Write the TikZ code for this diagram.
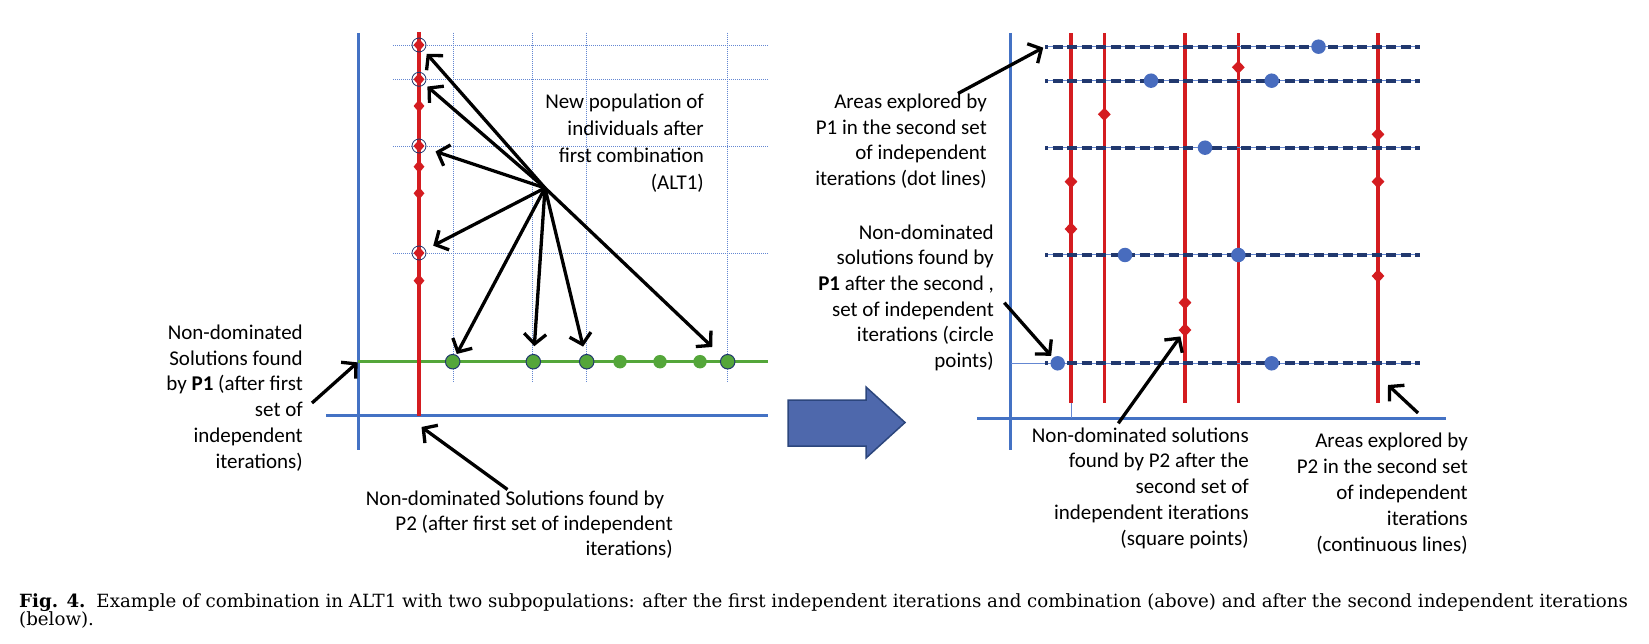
\documentclass[tikz,border=0pt]{standalone}
\usepackage{fontspec}
\setmainfont{DejaVu Serif}
\newfontfamily\calfont{Carlito}
\newfontfamily\capfont{DejaVu Serif}
\usetikzlibrary{arrows.meta,calc,shapes.geometric}

\definecolor{axisblue}{RGB}{68,114,196}
\definecolor{pred}{RGB}{212,28,32}
\definecolor{pgreen}{RGB}{84,166,58}
\definecolor{navy}{RGB}{33,56,110}
\definecolor{dotblue}{RGB}{72,108,190}
\definecolor{gridblue}{RGB}{100,135,210}
\definecolor{bigfill}{RGB}{78,104,172}
\definecolor{bigline}{RGB}{44,70,125}

\begin{document}
\begin{tikzpicture}[x=1pt,y=-1pt,
  axisl/.style={draw=axisblue, line width=3pt},
  gridl/.style={draw=gridblue, line width=0.9pt, dash pattern=on 1pt off 1pt},
  redl/.style={draw=pred, line width=4pt},
  redr/.style={draw=pred, line width=3.3pt},
  greenl/.style={draw=pgreen, line width=3.5pt},
  thinl/.style={draw=gridblue, line width=1pt},
  dashnavy/.style={draw=navy, line width=4pt, dash pattern=on 10pt off 4.5pt, dash phase=7pt},
  ptr/.style={draw=black, line width=3.3pt, -{Straight Barb[length=10pt,width=22pt]}},
  lbl/.style={font=\calfont\fontsize{21}{#1}\selectfont, align=right, anchor=base east, inner sep=0pt},
  rdia/.style={diamond, fill=pred, inner sep=0pt, minimum width=11pt, minimum height=13pt},
  rdiaR/.style={diamond, fill=pred, inner sep=0pt, minimum width=13pt, minimum height=13.5pt},
  ringd/.style={circle, draw=navy, line width=0.8pt, inner sep=0pt, minimum size=14pt},
  gdot/.style={circle, fill=pgreen, draw=navy, line width=1pt, inner sep=0pt, minimum size=14.5pt},
  gdotn/.style={circle, fill=pgreen, inner sep=0pt, minimum size=13.5pt},
  bdot/.style={circle, fill=dotblue, inner sep=0pt, minimum size=14.5pt},
  capt/.style={font=\capfont\fontsize{18.2}{18}\selectfont, anchor=base west, inner sep=0pt},
]
\useasboundingbox (0,0) rectangle (1649,644);

%% ---------------- left panel ----------------
\foreach \gy in {45,79.3,146,253} \draw[gridl] (393,\gy) -- (768,\gy);
\foreach \gx in {453.3,532.7,586.7,727.7} \draw[gridl] (\gx,32.7) -- (\gx,381.7);

\draw[axisl] (358.3,33) -- (358.3,450);
\draw[axisl] (326,415.7) -- (768,415.7);
\draw[greenl] (358.3,361.7) -- (768,361.7);
\draw[redl] (419,32) -- (419,415.7);

\coordinate (origL) at (358.3,361.7);
\coordinate (redbot) at (421.5,427);
\coordinate (src) at (545,188);

\foreach \i/\yy in {1/45,2/79.3,3/146,4/253} {
  \node[rdia] (rd\i) at (419,\yy) {};
  \node[ringd] (r\i) at (419,\yy) {};
}
\node[rdia] (rd5) at (419,106) {};
\node[rdia] (rd6) at (419,166.7) {};
\node[rdia] (rd7) at (419,193.3) {};
\node[rdia] (rd8) at (419,280.7) {};

\node[gdot] (g1) at (452.7,361.7) {};
\node[gdot] (g2) at (533.3,361.7) {};
\node[gdot] (g3) at (586.7,361.7) {};
\node[gdotn] (g4) at (620,361.7) {};
\node[gdotn] (g5) at (660,361.7) {};
\node[gdotn] (g6) at (700,361.7) {};
\node[gdot] (g7) at (727.7,361.7) {};

\draw[ptr, shorten >=4.3pt] (src) -- (r1);
\draw[ptr, shorten >=3.7pt] (src) -- (r2);
\draw[ptr, shorten >=10pt] (src) -- (r3);
\draw[ptr, shorten >=8.6pt] (src) -- (r4);
\draw[ptr, shorten >=1pt] (src) -- (g1);
\draw[ptr, shorten >=7.8pt] (src) -- (g2);
\draw[ptr, shorten >=7.8pt] (src) -- (g3);
\draw[ptr, shorten >=13.6pt] (src) -- (g7);

% base anchor = baseline of the last line
\node[lbl=26.7] (lnew) at (704,189.1) {New population of\\individuals after\\first combination\\(ALT1)};
\node[lbl=25.7] (lp1) at (303,468) {Non-dominated\\Solutions found\\by \textbf{P1} (after first\\set of\\independent\\iterations)};
\node[lbl=25.2] (lp2) at (673,555.5) {Non-dominated Solutions found by\hspace*{8.5pt}\\P2 (after first set of independent\hspace*{8.5pt}\\iterations)};

\coordinate (tE) at (312,403);
\coordinate (tF) at (507.5,489.5);
\draw[ptr, shorten >=1pt] (tE) -- (origL);
\draw[ptr] (tF) -- (redbot);

%% ---------------- big arrow ----------------
\draw[fill=bigfill, draw=bigline, line width=1.5pt]
  (788,400) -- (866,400) -- (866,387) -- (905,422.5) -- (866,458) -- (866,446) -- (788,446) -- cycle;

%% ---------------- right panel ----------------
\draw[axisl] (1010.7,33) -- (1010.7,450);
\draw[axisl] (977,418) -- (1446,418);
\draw[thinl] (1011,363.3) -- (1046,363.3);
\draw[thinl] (1071,403) -- (1071,418);

\foreach \rx in {1071,1104.3,1185,1238.3,1378} \draw[redr] (\rx,33.3) -- (\rx,403.3);

\foreach \dy in {46.7,80.7,147.7,255,363.3} {
  \draw[thinl] (1045,\dy) -- (1420,\dy);
  \draw[dashnavy] (1045,\dy) -- (1420,\dy);
}
\coordinate (dstart) at (1045,46.7);
\coordinate (p2head) at (1388,385);

\node[bdot] (b11) at (1318.5,46.7) {};
\node[bdot] (b21) at (1151,80.7) {};
\node[bdot] (b22) at (1271.7,80.7) {};
\node[bdot] (b31) at (1205,147.7) {};
\node[bdot] (b41) at (1125,255) {};
\node[bdot] (b42) at (1238.3,255) {};
\node[bdot] (b51) at (1057.7,363.3) {};
\node[bdot] (b52) at (1271.7,363.3) {};

\node[rdiaR] (d1) at (1071,181.7) {};
\node[rdiaR] (d2) at (1071,229) {};
\node[rdiaR] (d3) at (1104.3,114.3) {};
\node[rdiaR] (d4) at (1185,302.7) {};
\node[rdiaR] (d5) at (1185,330) {};
\node[rdiaR] (d6) at (1238.3,67.3) {};
\node[rdiaR] (d7) at (1378,134.3) {};
\node[rdiaR] (d8) at (1378,181.7) {};
\node[rdiaR] (d9) at (1378,276) {};

\node[lbl=25.6] (la1) at (987,185.3) {Areas explored by\\P1 in the second set\\of independent\\iterations (dot lines)};
\node[lbl=25.7] (ln1) at (994,367.5) {Non-dominated\\solutions found by\\\textbf{P1} after the second ,\\set of independent\\iterations (circle\\points)};
\node[lbl=25.9] (ln2) at (1249,545.6) {Non-dominated solutions\\found by P2 after the\\second set of\\independent iterations\\(square points)};
\node[lbl=26] (la2) at (1468,551) {Areas explored by\\P2 in the second set\\of independent\\iterations\\(continuous lines)};

\coordinate (tA) at (958,93.5);
\coordinate (tB) at (1004.3,302.7);
\coordinate (tC) at (1118.3,423.3);
\coordinate (tD) at (1418,413);
\draw[ptr, shorten >=2pt] (tA) -- (dstart);
\draw[ptr, shorten >=2.5pt] (tB) -- (b51);
\draw[ptr, shorten >=3pt] (tC) -- (d5);
\draw[ptr] (tD) -- (p2head);

%% ---------------- caption ----------------
\node[capt] (cap1) at (19,607.5) {\textbf{Fig. 4.}\hspace{0.6em}Example of combination in ALT1 with two subpopulations: after the first independent iterations and combination (above) and after the second independent iterations};
\node[capt] (cap2) at (19,625.5) {(below).};
\end{tikzpicture}
\end{document}
